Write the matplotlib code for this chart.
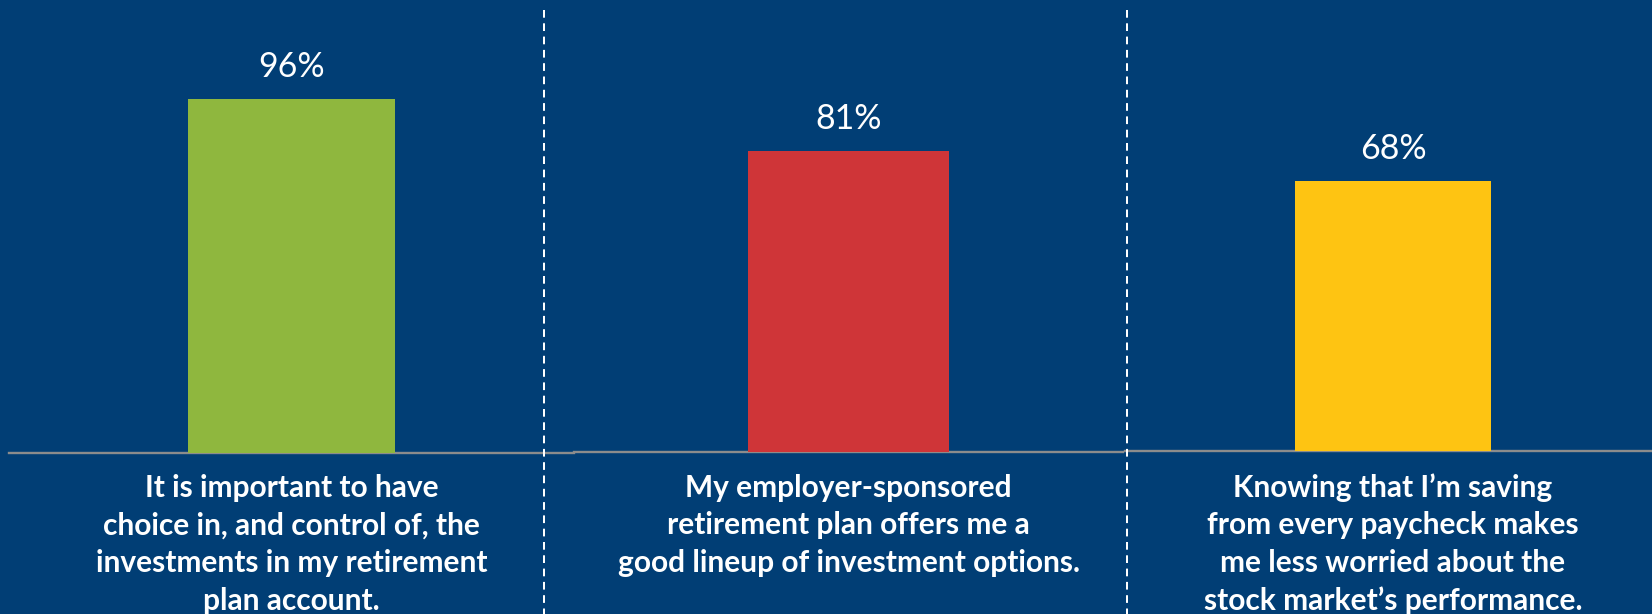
import matplotlib
matplotlib.use("Agg")
import matplotlib.pyplot as plt
from matplotlib.lines import Line2D
from matplotlib.transforms import blended_transform_factory

# Survey statements and share of respondents who agree
statements = [
    "It is important to have\nchoice in, and control of, the\ninvestments in my retirement\nplan account.",
    "My employer-sponsored\nretirement plan offers me a\ngood lineup of investment options.",
    "Knowing that I\u2019m saving\nfrom every paycheck makes\nme less worried about the\nstock market\u2019s performance.",
]
agree_pct = [96, 81, 68]
value_labels = ["96%", "81%", "68%"]
bar_colors = ["#8FB73E", "#CF3538", "#FEC412"]

W, H = 1652, 614
BG = "#013E75"
GRID = "#8C8C8C"

fig = plt.figure(figsize=(W / 100, H / 100), dpi=100, facecolor=BG)

# panel layout in pixels: left, right, baseline, y-limit of each panel
panels = [
    (9, 574, 452.7, 122.9),
    (574, 1123, 452.0, 121.5),
    (1125, 1661, 450.7, 113.8),
]

for (x0, x1, base, ytop), text, val, lab, col in zip(
        panels, statements, agree_pct, value_labels, bar_colors):
    ax = fig.add_axes([x0 / W, (H - base) / H, (x1 - x0) / W, base / H])
    ax.set_facecolor("none")
    ax.set_xlim(-0.5, 0.5)
    ax.set_ylim(0, ytop)
    ax.axis("off")
    ax.axhline(0, color=GRID, lw=1.7, zorder=1, clip_on=False)
    bars = ax.bar([0], [val], width=0.367, color=col, zorder=2)
    for b in bars:
        ax.annotate(lab, xy=(b.get_x() + b.get_width() / 2, b.get_height()),
                    xytext=(0, 15.8), textcoords="offset points",
                    ha="center", va="baseline", color="white",
                    fontsize=24.5, family="Lato")
    tr = blended_transform_factory(ax.transData, fig.transFigure)
    for i, line in enumerate(text.split("\n")):
        yb = 496.5 + i * 37.8
        ax.text(0, 1 - yb / H, line, transform=tr, ha="center", va="baseline",
                color="white", fontsize=21.5, fontweight="bold", family="Lato")

# dashed separators between panels
for xs in (544, 1127):
    fig.add_artist(Line2D([xs / W, xs / W], [1 - 10 / H, 0],
                          transform=fig.transFigure, color="white", lw=1.44,
                          linestyle=(0, (3.85, 2.8))))

fig.savefig("out.png", dpi=100, facecolor=BG)
